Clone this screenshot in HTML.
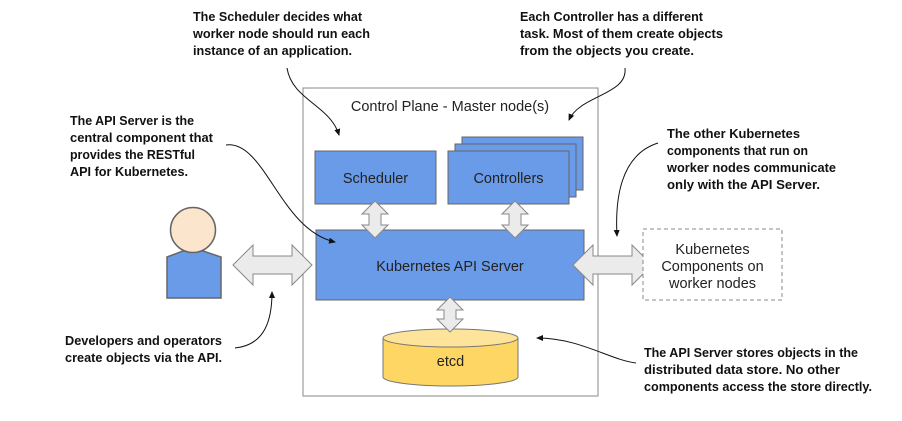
<!DOCTYPE html>
<html><head><style>
html,body{margin:0;padding:0;background:#fff;}
svg{display:block;}
.c{font-family:"Liberation Sans",sans-serif;font-weight:bold;font-size:13px;fill:#111;}
.n{font-family:"Liberation Sans",sans-serif;font-size:14.5px;fill:#222;}
</style></head><body>
<svg width="902" height="421" viewBox="0 0 902 421" xmlns="http://www.w3.org/2000/svg">
<defs><marker id="ah" markerWidth="8" markerHeight="8" refX="6" refY="4" orient="auto" markerUnits="userSpaceOnUse"><path d="M0,1 L7,4 L0,7 z" fill="#111"/></marker></defs>
<rect x="303" y="88" width="295" height="308" fill="#fff" stroke="#888" stroke-width="1"/>
<text class="n" x="450" y="111" text-anchor="middle">Control Plane - Master node(s)</text>
<rect x="315" y="151" width="121" height="53" fill="#6a9be8" stroke="#666"/>
<text class="n" x="375.5" y="183" text-anchor="middle">Scheduler</text>
<rect x="462" y="137" width="121" height="53" fill="#6a9be8" stroke="#666"/>
<rect x="455" y="144" width="121" height="53" fill="#6a9be8" stroke="#666"/>
<rect x="448" y="151" width="121" height="53" fill="#6a9be8" stroke="#666"/>
<text class="n" x="508.5" y="183" text-anchor="middle">Controllers</text>
<rect x="316" y="230" width="268" height="70" fill="#6a9be8" stroke="#666"/>
<text class="n" x="450" y="271" text-anchor="middle">Kubernetes API Server</text>
<path d="M383,338 L383,377 A67.5,9 0 0 0 518,377 L518,338" fill="#fdd663" stroke="#777"/>
<ellipse cx="450.5" cy="338" rx="67.5" ry="9" fill="#fde49a" stroke="#777"/>
<text class="n" x="450.5" y="366" text-anchor="middle">etcd</text>
<g fill="#ebebeb" stroke="#888">
<path d="M375,201 L388,214 L381,214 L381,225 L388,225 L375,238 L362,225 L369,225 L369,214 L362,214 z"/>
<path d="M515,201 L528,214 L521,214 L521,225 L528,225 L515,238 L502,225 L509,225 L509,214 L502,214 z"/>
<path d="M450,297 L463,310 L456,310 L456,319 L463,319 L450,332 L437,319 L444,319 L444,310 L437,310 z"/>
<path d="M233,265 L253,245 L253,256 L292,256 L292,245 L312,265 L292,285 L292,274 L253,274 L253,285 z"/>
<path d="M573,265 L593,245 L593,256 L632,256 L632,245 L652,265 L632,285 L632,274 L593,274 L593,285 z"/>
</g>
<path d="M167,257 L183,251 L203,251 L221,257 L221,298 L167,298 z" fill="#6a9be8" stroke="#666" stroke-width="1.5"/>
<circle cx="193" cy="230" r="22.5" fill="#fce5cd" stroke="#666" stroke-width="1.5"/>
<rect x="643" y="229" width="139" height="71" fill="#fff" stroke="#888" stroke-dasharray="4,3"/>
<text class="n" x="712.5" y="254" text-anchor="middle">Kubernetes</text>
<text class="n" x="712.5" y="271" text-anchor="middle">Components on</text>
<text class="n" x="712.5" y="288" text-anchor="middle">worker nodes</text>
<g fill="none" stroke="#111" stroke-width="1" marker-end="url(#ah)">
<path d="M287,68 C292,100 330,105 339,135"/>
<path d="M226,145 C265,140 280,230 335,242"/>
<path d="M625,68 C628,95 580,95 569,120"/>
<path d="M658,143 C620,155 615,200 617,236"/>
<path d="M235,348 C265,345 272,320 272,292"/>
<path d="M636,363 C610,360 580,338 537,338"/>
</g>
<g class="c">
<text x="193" y="21" textLength="169" lengthAdjust="spacingAndGlyphs">The Scheduler decides what</text>
<text x="193" y="38" textLength="177" lengthAdjust="spacingAndGlyphs">worker node should run each</text>
<text x="193" y="55" textLength="159" lengthAdjust="spacingAndGlyphs">instance of an application.</text>
<text x="520" y="21" textLength="183" lengthAdjust="spacingAndGlyphs">Each Controller has a different</text>
<text x="520" y="38" textLength="203" lengthAdjust="spacingAndGlyphs">task. Most of them create objects</text>
<text x="520" y="55" textLength="174" lengthAdjust="spacingAndGlyphs">from the objects you create.</text>
<text x="70" y="125" textLength="124" lengthAdjust="spacingAndGlyphs">The API Server is the</text>
<text x="70" y="142" textLength="143" lengthAdjust="spacingAndGlyphs">central component that</text>
<text x="70" y="159" textLength="125" lengthAdjust="spacingAndGlyphs">provides the RESTful</text>
<text x="70" y="176" textLength="118" lengthAdjust="spacingAndGlyphs">API for Kubernetes.</text>
<text x="667" y="138" textLength="133" lengthAdjust="spacingAndGlyphs">The other Kubernetes</text>
<text x="667" y="155" textLength="141" lengthAdjust="spacingAndGlyphs">components that run on</text>
<text x="667" y="172" textLength="169" lengthAdjust="spacingAndGlyphs">worker nodes communicate</text>
<text x="667" y="189" textLength="153" lengthAdjust="spacingAndGlyphs">only with the API Server.</text>
<text x="65" y="345" textLength="157" lengthAdjust="spacingAndGlyphs">Developers and operators</text>
<text x="65" y="362" textLength="157" lengthAdjust="spacingAndGlyphs">create objects via the API.</text>
<text x="644" y="357" textLength="214" lengthAdjust="spacingAndGlyphs">The API Server stores objects in the</text>
<text x="644" y="374" textLength="196" lengthAdjust="spacingAndGlyphs">distributed data store. No other</text>
<text x="644" y="391" textLength="228" lengthAdjust="spacingAndGlyphs">components access the store directly.</text>
</g>
</svg>
</body></html>
